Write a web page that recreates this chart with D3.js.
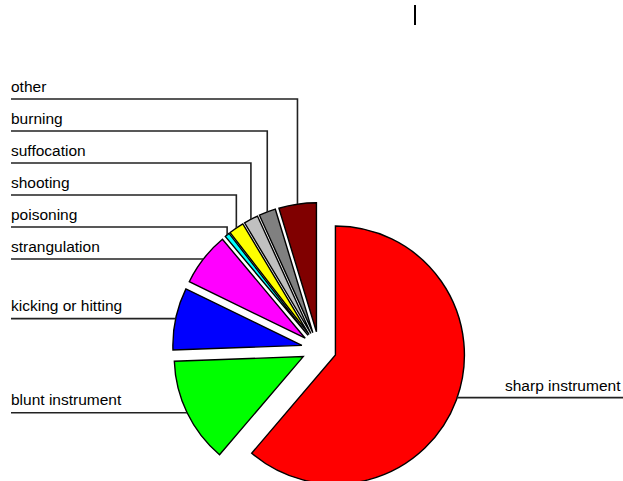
<!DOCTYPE html>
<html>
<head>
<meta charset="utf-8">
<script src="https://cdn.jsdelivr.net/npm/d3@7"></script>
<style>
  html, body { margin: 0; padding: 0; background: #fff; }
  svg { display: block; }
  text { font-family: "Liberation Sans", Arial, sans-serif; font-size: 15.5px; fill: #000; }
</style>
</head>
<body>
<svg id="chart" width="623" height="481"></svg>
<script>
// ---- data ----
const categories = ["sharp instrument", "blunt instrument", "kicking or hitting", "strangulation",
                    "poisoning", "shooting", "suffocation", "burning", "other"];
const values = [61.3, 13.2, 7.8, 6.7, 0.6, 1.9, 1.8, 2.1, 4.7];
const colors = ["#ff0000", "#00ff00", "#0000ff", "#ff00ff", "#00ffff", "#ffff00", "#c0c0c0", "#808080", "#800000"];

// ---- layout ----
const W = 623, H = 481;
const cx = 319, cy = 349, R = 129, explode = 17.5;
const labelX = 11;
const stackTop = 99, stackStep = 32;        // stacked label lines (upper-left group)
const stackOrder = ["other", "burning", "suffocation", "shooting", "poisoning", "strangulation"];

const svg = d3.select("#chart");
svg.append("rect").attr("width", W).attr("height", H).attr("fill", "#fff");

// stray mark at top
svg.append("line").attr("x1", 415).attr("x2", 415).attr("y1", 5).attr("y2", 25)
  .attr("stroke", "#000").attr("stroke-width", 2);

const data = categories.map((c, i) => ({ name: c, value: values[i], color: colors[i] }));
const pie = d3.pie().value(d => d.value).sort(null).startAngle(0).endAngle(2 * Math.PI);
const arcs = pie(data);
const arcGen = d3.arc().innerRadius(0).outerRadius(R);

const g = svg.append("g").attr("transform", `translate(${cx},${cy})`);

arcs.forEach(a => {
  const mid = (a.startAngle + a.endAngle) / 2;
  a.mid = mid;
  a.ox = Math.sin(mid) * explode;
  a.oy = -Math.cos(mid) * explode;
  a.ax = cx + a.ox + Math.sin(mid) * R;
  a.ay = cy + a.oy - Math.cos(mid) * R;
});

// slices
g.selectAll("path.slice").data(arcs).enter().append("path")
  .attr("class", "slice")
  .attr("transform", d => `translate(${d.ox},${d.oy})`)
  .attr("d", arcGen)
  .attr("fill", d => d.data.color)
  .attr("stroke", "#000")
  .attr("stroke-width", 1.4)
  .attr("stroke-linejoin", "miter");

// leader lines and labels
const lines = svg.append("g").attr("fill", "none").attr("stroke", "#222").attr("stroke-width", 1.6);
const labels = svg.append("g");

arcs.forEach(a => {
  const name = a.data.name;
  const si = stackOrder.indexOf(name);
  if (name === "sharp instrument") {
    const y = a.ay - 2;
    lines.append("path").attr("d", `M${a.ax},${y}H${W}`);
    labels.append("text").attr("x", 505).attr("y", y - 7).text(name);
  } else if (si >= 0 && si < stackOrder.length - 1) {
    const y = stackTop + si * stackStep;
    lines.append("path").attr("d", `M${labelX},${y}H${a.ax}V${a.ay}`);
    labels.append("text").attr("x", labelX).attr("y", y - 7.5).text(name);
  } else {
    const y = si >= 0 ? stackTop + si * stackStep : a.ay;
    lines.append("path").attr("d", `M${labelX},${y}H${a.ax}`);
    labels.append("text").attr("x", labelX).attr("y", y - 7.5).text(name);
  }
});
</script>
</body>
</html>
